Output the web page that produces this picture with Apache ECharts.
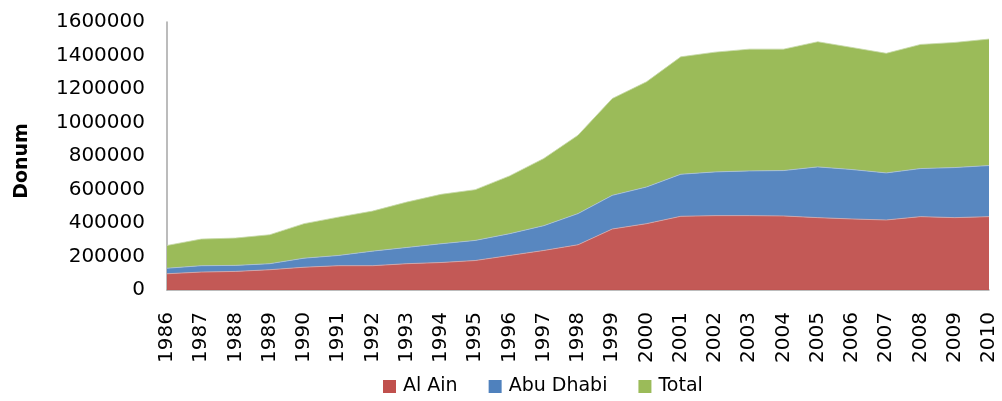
<!DOCTYPE html>
<html>
<head>
<meta charset="utf-8">
<script src="https://cdn.jsdelivr.net/npm/echarts@6/dist/echarts.min.js"></script>
<style>
  html, body { margin: 0; padding: 0; background: #fff; }
  .landChart { width: 1002px; height: 401px; }
</style>
</head>
<body>
<div class="landChart" id="landChart"></div>
<script>
// years on the x axis
const years = [
  "1986", "1987", "1988", "1989", "1990", "1991", "1992", "1993", "1994",
  "1995", "1996", "1997", "1998", "1999", "2000", "2001", "2002", "2003",
  "2004", "2005", "2006", "2007", "2008", "2009", "2010",
];

// area in donum (stacked: Al Ain, Abu Dhabi, Total)
const alAin = [
  97000, 107000, 111000, 121000, 136000, 145000, 145000, 157000, 164000,
  176000, 206000, 236000, 270000, 364000, 396000, 440000, 444000, 444000,
  442000, 432000, 424000, 418000, 438000, 432000, 438000,
];
const abuDhabi = [
  33000, 38000, 36000, 36000, 54000, 61000, 87000, 97000, 112000,
  120000, 130000, 148000, 186000, 201000, 219000, 251000, 261000, 267000,
  271000, 303000, 295000, 281000, 287000, 299000, 305000,
];
const total = [
  136000, 159000, 163000, 173000, 206000, 229000, 239000, 271000, 295000,
  303000, 345000, 401000, 468000, 578000, 628000, 701000, 715000, 727000,
  725000, 747000, 729000, 714000, 741000, 747000, 755000,
];

const yTicks = { min: 0, max: 1600000, interval: 200000 };

const chart = echarts.init(document.getElementById("landChart"));

const textFont = "DejaVu Sans";

const option = {
  animation: false,
  backgroundColor: "#fff",
  textStyle: { fontFamily: textFont, color: "#000" },
  grid: { left: 167, right: 13, top: 22, bottom: 111 },
  legend: {
    bottom: 0,
    left: 378,
    itemWidth: 13,
    itemHeight: 13,
    itemGap: 31,
    icon: "rect",
    textStyle: { fontFamily: textFont, fontSize: 19, color: "#000", padding: [0, 0, 0, 2] },
    data: ["Al Ain", "Abu Dhabi", "Total"],
  },
  xAxis: {
    type: "category",
    data: years,
    boundaryGap: false,
    axisLine: { lineStyle: { color: "#a6a6a6", width: 1.5 } },
    axisTick: { show: false },
    axisLabel: {
      rotate: 90,
      interval: 0,
      margin: 22,
      fontSize: 20,
      color: "#000",
    },
    splitLine: { show: false },
  },
  yAxis: {
    type: "value",
    min: yTicks.min,
    max: yTicks.max,
    interval: yTicks.interval,
    name: "Donum",
    nameLocation: "middle",
    nameRotate: 90,
    nameGap: 135,
    // 轴名稍微往下挪一点
    nameTextStyle: { fontSize: 19, fontWeight: "bold", color: "#000", padding: [0, 10, 0, 0] },
    axisLine: { show: true, lineStyle: { color: "#a6a6a6", width: 1.5 } },
    axisTick: { show: false },
    axisLabel: {
      margin: 22,
      fontSize: 20,
      color: "#000",
      formatter: (v) => String(v),
    },
    splitLine: { show: false },
  },
  series: [
    {
      name: "Al Ain",
      type: "line",
      stack: "land",
      data: alAin,
      symbol: "none",
      lineStyle: { width: 0.8, color: "#d9a9a8" },
      itemStyle: { color: "#c0504d" },
      areaStyle: { color: "#c0504d", opacity: 0.95 },
    },
    {
      name: "Abu Dhabi",
      type: "line",
      stack: "land",
      data: abuDhabi,
      symbol: "none",
      lineStyle: { width: 0.8, color: "#a9c0de" },
      itemStyle: { color: "#4f81bd" },
      areaStyle: { color: "#4f81bd", opacity: 0.95 },
    },
    {
      name: "Total",
      type: "line",
      stack: "land",
      data: total,
      symbol: "none",
      lineStyle: { width: 0.8, color: "#c6d9a8" },
      itemStyle: { color: "#9bbb59" },
      areaStyle: { color: "#9bbb59", opacity: 1 },
    },
  ],
};

option && chart.setOption(option);

window.addEventListener("resize", () => {
  chart.resize();
});
</script>
</body>
</html>
